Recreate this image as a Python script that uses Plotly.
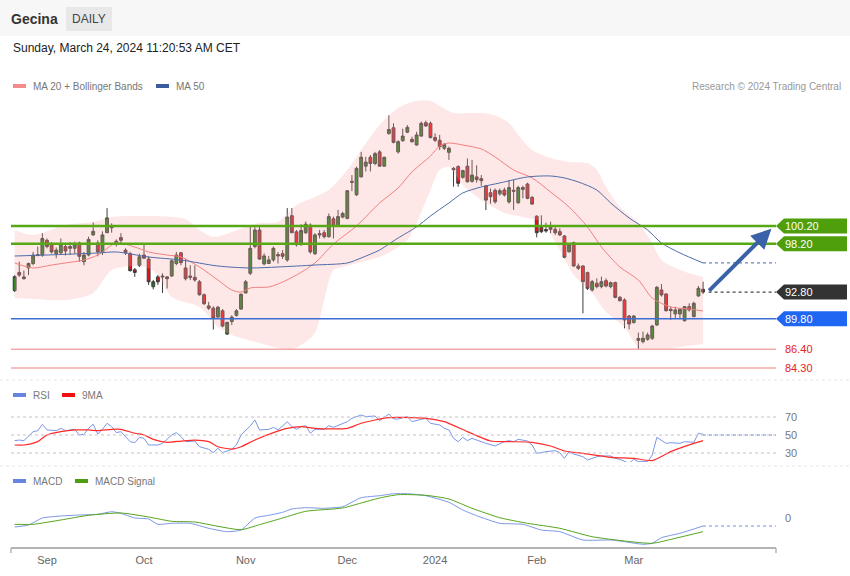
import plotly.graph_objects as go

# ---------------- data ----------------
# trading-day index (0 = Sep 1 2023) for each daily candle
candle_idx = list(range(-7, 143))
opens = [92.96, 95.0, 94.5, 95.5, 96.0, 97.0, 96.95,
         98.6, 98.1, 97.1, 97.2, 97.9, 97.9, 97.7, 98.3, 96.2, 96.95,
         99.2, 98.3, 97.3, 99.45, 100.15, 98.5, 98.9, 97.5, 97.1, 95.3,
         95.8, 96.95, 96.5, 93.4, 94.5, 94.6, 94.5, 94.6, 96.0, 97.2,
         95.5, 94.6, 94.45, 93.95, 92.5, 91.25, 91.0, 90.0, 90.7, 88.1,
         89.5, 90.2, 90.9, 92.7, 94.9, 97.9, 99.75, 95.95, 96.0, 96.4,
         97.0, 97.1, 96.4, 101.35, 99.55, 98.1, 99.45, 100.3, 97.1, 99.35,
         99.45, 99.0, 101.0, 100.2, 101.2, 101.05, 105.2, 103.7, 105.7, 106.9,
         107.9, 107.2, 108.5, 106.9, 110.57, 111.2, 108.5, 109.75, 110.7, 109.9,
         109.27, 110.27, 111.77, 111.7, 110.1, 109.8, 108.9, 108.45, 106.65, 106.85,
         105.65, 106.9, 105.2, 105.7, 105.5, 104.68, 103.93, 104.2, 103.8, 104.23,
         102.9, 104.2, 102.8, 104.3, 104.9, 103.4, 101.3, 100.05, 99.8, 100.05,
         99.83, 99.57, 99.08, 97.33, 98.33, 95.72, 95.72, 94.98, 93.04, 93.78,
         93.41, 94.08, 93.41, 93.86, 92.21, 91.92, 90.12, 89.38, 87.6, 87.25,
         87.51, 87.63, 89.12, 93.04, 92.59, 90.87, 90.35, 90.35, 89.6, 91.17,
         90.05, 92.36, 93.11]
highs = [94.7, 96.2, 95.2, 96.1, 97.3, 97.9, 99.4,
         98.8, 98.4, 97.8, 98.8, 98.3, 98.4, 98.45, 98.45, 97.3, 99.0,
         100.6, 98.6, 99.6, 102.2, 100.5, 98.7, 99.4, 97.7, 97.3, 95.5,
         97.1, 98.1, 96.8, 94.15, 94.7, 94.9, 94.6, 96.45, 97.3, 97.3,
         96.5, 95.8, 95.8, 94.15, 92.66, 91.7, 91.2, 91.25, 90.9, 89.5,
         90.2, 90.9, 92.66, 94.15, 100.2, 100.2, 100.2, 97.14, 96.85, 97.9,
         97.3, 97.5, 102.2, 102.2, 99.75, 100.4, 100.7, 100.5, 99.4, 99.75,
         99.75, 101.6, 101.25, 102.0, 101.8, 104.2, 105.9, 106.85, 108.5, 107.95,
         108.15, 108.5, 108.7, 107.95, 112.6, 111.7, 109.8, 111.1, 111.5, 110.2,
         110.75, 111.9, 112.0, 111.9, 110.57, 110.4, 109.5, 109.1, 106.8, 107.0,
         106.5, 107.77, 107.6, 107.0, 105.9, 104.8, 104.4, 104.4, 104.4, 104.5,
         105.35, 105.35, 104.7, 104.7, 105.05, 103.56, 101.4, 101.4, 100.57, 100.68,
         100.3, 99.94, 99.2, 98.26, 98.45, 96.0, 95.83, 95.09, 94.16, 94.34,
         94.53, 94.34, 93.97, 93.97, 92.36, 92.1, 90.24, 90.24, 88.26, 88.37,
         88.26, 89.12, 93.48, 93.7, 92.66, 91.17, 91.17, 90.98, 91.25, 91.54,
         91.73, 93.48, 93.97]
lows = [92.8, 94.5, 94.2, 94.7, 95.8, 96.8, 96.75,
        97.7, 97.1, 96.6, 96.95, 96.9, 96.95, 97.1, 96.2, 95.8, 96.8,
        99.1, 96.8, 96.95, 99.4, 99.45, 97.9, 98.2, 96.95, 95.1, 94.5,
        95.6, 96.5, 93.6, 93.1, 93.6, 92.7, 93.2, 94.5, 95.8, 95.8,
        94.1, 94.15, 93.95, 92.4, 91.35, 90.8, 88.6, 89.95, 88.85, 88.0,
        89.1, 90.05, 90.8, 92.66, 94.7, 97.7, 96.4, 95.8, 95.95, 96.2,
        96.0, 96.5, 96.2, 99.4, 97.9, 98.0, 99.3, 97.1, 96.95, 98.8,
        98.8, 98.9, 98.8, 100.1, 101.05, 100.95, 104.1, 103.55, 105.65, 106.3,
        106.3, 107.0, 106.85, 106.85, 110.4, 109.45, 108.3, 109.64, 110.6, 109.53,
        109.2, 110.2, 111.3, 110.0, 109.6, 108.7, 108.7, 107.6, 104.6, 104.6,
        105.5, 105.05, 105.05, 105.05, 104.7, 101.99, 102.7, 102.7, 103.6, 103.5,
        102.7, 102.0, 102.7, 103.3, 103.2, 102.55, 98.93, 99.4, 99.45, 99.4,
        99.2, 99.08, 96.58, 97.2, 95.65, 95.27, 90.42, 93.04, 92.85, 93.22,
        93.22, 93.33, 93.22, 92.1, 91.73, 88.74, 88.63, 89.3, 86.32, 87.06,
        87.36, 87.44, 89.0, 92.29, 90.61, 89.68, 89.87, 89.75, 89.49, 90.61,
        89.98, 92.29, 92.59]
closes = [94.53, 94.7, 94.3, 96.0, 96.95, 96.9, 98.8,
          97.9, 97.3, 97.5, 98.2, 97.4, 97.7, 98.1, 96.8, 96.95, 98.7,
          99.6, 97.3, 99.2, 101.1, 100.0, 98.2, 98.6, 97.2, 95.2, 95.0,
          96.75, 96.6, 93.95, 93.95, 93.95, 94.5, 94.3, 96.3, 96.95, 96.1,
          94.3, 94.45, 94.15, 92.5, 91.5, 91.0, 89.9, 91.1, 89.0, 89.4,
          90.0, 90.7, 92.55, 93.95, 97.7, 99.75, 96.5, 96.85, 96.4, 97.7,
          96.85, 96.8, 101.2, 99.45, 98.1, 99.7, 100.4, 97.3, 99.2, 99.2,
          99.0, 101.25, 100.2, 101.25, 101.6, 104.15, 105.1, 106.65, 107.9, 107.35,
          107.2, 108.3, 106.9, 107.9, 111.0, 109.57, 109.64, 110.27, 111.25, 109.64,
          110.4, 111.7, 111.4, 110.1, 109.8, 109.08, 109.35, 108.9, 106.5, 104.98,
          106.4, 105.16, 105.9, 105.4, 105.27, 103.1, 103.48, 102.92, 104.16, 103.67,
          104.5, 104.1, 104.5, 104.5, 103.3, 102.66, 99.45, 99.57, 99.65, 99.83,
          99.45, 99.2, 96.7, 98.07, 95.72, 95.46, 93.97, 93.22, 93.97, 93.41,
          93.97, 93.48, 93.86, 92.21, 91.84, 89.68, 89.23, 90.12, 87.4, 87.63,
          88.0, 89.0, 93.33, 92.48, 90.72, 90.72, 90.8, 90.87, 91.17, 90.8,
          91.54, 93.22, 92.8]

# Bollinger bands, MA20, MA50 (values read at sampled days)
bb_up_idx = [-7, -3, 4, 10, 14, 22, 27, 30, 33, 36, 40, 43, 46, 50, 54, 58, 61, 65, 68, 72,
             76, 79, 83, 85, 88, 92, 96, 100, 102, 105, 109, 113, 117, 119, 121, 124, 128,
             131, 133, 137, 142]
bb_up = [99.75, 99.19, 100.31, 100.65, 101.21, 101.32, 101.21, 100.98, 99.75, 98.97, 99.53,
         100.09, 100.54, 100.65, 102.55, 103.45, 104.23, 106.47, 108.71, 111.51, 113.41,
         114.09, 114.2, 113.64, 112.86, 112.86, 112.74, 111.73, 110.39, 108.71, 107.81,
         107.37, 107.25, 106.47, 104.57, 102.33, 100.54, 98.3, 96.39, 95.27, 94.49]
bb_lo_idx = [-7, -3, 4, 10, 14, 19, 22, 24, 27, 33, 37, 40, 46, 50, 53, 55, 58, 60, 62, 64,
             68, 72, 75, 78, 80, 83, 85, 87, 90, 94, 99, 103, 107, 111, 114, 118, 121, 125,
             128, 132, 137, 142]
bb_lo = [92.14, 92.03, 91.91, 92.7, 95.27, 95.72, 95.5, 94.71, 92.25, 91.13, 88.89, 87.99,
         87.1, 86.54, 86.43, 86.87, 88.22, 91.91, 95.27, 95.61, 96.17, 96.73, 97.51, 98.63,
         100.54, 104.23, 106.47, 106.81, 104.79, 103.11, 101.66, 101.21, 100.65, 97.51,
         94.71, 92.7, 90.57, 88.89, 86.65, 86.31, 86.65, 86.99]
ma20_idx = [-7, -3, 1, 4, 8, 11, 15, 19, 22, 26, 29, 33, 37, 40, 42, 44, 48, 50, 54, 58, 62,
            67, 72, 76, 79, 83, 85, 87, 90, 94, 97, 101, 105, 109, 113, 117, 120, 124, 128,
            131, 135, 139, 142]
ma20 = [96.06, 95.5, 95.83, 96.06, 96.39, 96.95, 98.3, 97.85, 97.29, 96.95, 96.73, 95.61,
        94.15, 93.03, 92.8, 93.26, 93.37, 93.7, 94.71, 96.06, 98.18, 100.2, 102.78, 104.46,
        106.25, 108.04, 109.16, 109.49, 109.27, 108.82, 107.93, 106.47, 105.58, 104.01,
        102.33, 100.09, 97.85, 95.61, 94.15, 92.14, 91.13, 90.91, 90.68]
ma50_idx = [-7, 0, 11, 15, 22, 29, 37, 44, 50, 58, 65, 68, 72, 74, 76, 80, 83, 87, 90, 94,
            98, 104, 109, 112, 115, 119, 122, 126, 130, 133, 137, 142]
ma50 = [96.84, 96.95, 97.18, 97.29, 96.73, 96.39, 95.72, 95.5, 95.61, 95.83, 96.06, 96.62,
        97.51, 98.18, 98.86, 100.1, 101.32, 102.78, 103.9, 104.57, 105.02, 105.69, 105.8,
        105.58, 105.13, 104.23, 102.78, 101.1, 99.75, 98.3, 97.18, 96.06]

# RSI and its 9-day MA
rsi_idx = [-7, -6, -5, -3, -2, -1, 0, 2, 3, 4, 6, 7, 8, 9, 10, 11, 12, 13, 14, 15, 16, 17,
           18, 19, 20, 21, 22, 24, 25, 27, 28, 29, 30, 32, 33, 35, 36, 37, 38, 40, 41, 42,
           44, 45, 46, 48, 49, 50, 52, 53, 54, 55, 56, 57, 58, 60, 61, 62, 63, 65, 66, 68,
           69, 71, 72, 74, 75, 76, 78, 79, 81, 82, 83, 85, 86, 87, 88, 89, 90, 91, 92, 93,
           95, 97, 99, 100, 101, 102, 104, 105, 106, 108, 110, 111, 112, 113, 114, 116,
           117, 119, 120, 122, 123, 124, 126, 127, 128, 130, 131, 132, 133, 134, 135, 137,
           138, 140, 141, 142]
rsi = [43.7, 44.4, 43.7, 53.7, 54.8, 61.9, 55.6, 54.8, 57.4, 54.8, 56.3, 50.0, 50.7, 57.4,
       61.9, 51.1, 56.3, 63.0, 59.3, 52.6, 53.7, 48.1, 42.6, 41.5, 47.4, 46.3, 38.9, 38.9,
       40.7, 50.0, 52.6, 48.1, 42.6, 43.3, 37.0, 34.1, 30.4, 35.2, 30.4, 34.1, 38.9, 50.0,
       60.0, 66.7, 55.6, 56.3, 58.5, 55.6, 64.8, 59.3, 56.3, 59.3, 60.4, 51.9, 56.3, 56.3,
       60.4, 58.5, 60.4, 64.8, 68.5, 72.2, 70.4, 71.1, 65.9, 73.3, 67.8, 67.8, 70.4, 64.8,
       67.4, 68.5, 63.0, 61.1, 57.4, 55.6, 46.3, 42.6, 47.4, 43.7, 46.3, 44.4, 40.7, 37.8,
       42.6, 43.7, 42.6, 45.2, 43.3, 38.9, 29.6, 31.5, 32.6, 30.4, 24.1, 31.5, 28.9, 25.9,
       22.2, 25.9, 26.7, 26.7, 24.1, 23.0, 18.5, 23.0, 20.4, 20.4, 27.8, 47.4, 44.4, 40.7,
       41.5, 40.7, 42.6, 41.9, 51.9, 50.7]
rsi_ma_idx = [-7, -5, -2, 0, 3, 6, 9, 11, 14, 16, 19, 21, 23, 26, 29, 32, 35, 37, 40, 42,
              45, 49, 52, 55, 58, 62, 65, 68, 71, 74, 76, 79, 82, 86, 91, 96, 100, 105, 109,
              112, 116, 122, 127, 131, 135, 140, 142]
rsi_ma = [38.9, 38.9, 42.6, 50.0, 53.7, 55.6, 55.6, 54.8, 56.3, 56.3, 51.9, 50.0, 45.2, 41.9,
          43.3, 44.4, 42.6, 37.0, 34.4, 37.0, 44.4, 52.6, 57.4, 59.3, 57.4, 56.7, 57.4, 63.0,
          66.7, 69.3, 69.6, 69.3, 68.5, 64.8, 53.7, 43.3, 42.6, 41.9, 37.8, 32.2, 29.6, 25.2,
          24.1, 21.5, 31.5, 40.7, 43.7]

# MACD and signal
macd_idx = [-7, -4, -1, 3, 7, 11, 14, 16, 19, 22, 24, 27, 31, 35, 39, 42, 45, 48, 51, 53,
            56, 60, 64, 68, 72, 75, 78, 82, 87, 90, 93, 98, 103, 107, 111, 116, 122, 125,
            129, 131, 133, 137, 142]
macd = [-0.9, -0.7, 0.0, 0.2, 0.3, 0.37, 0.63, 0.47, 0.0, -0.1, -0.63, -0.53, -0.53, -1.03,
        -1.37, -1.2, 0.0, 0.27, 0.57, 0.9, 1.03, 0.97, 1.13, 2.03, 2.23, 2.43, 2.43, 2.23,
        1.57, 0.8, 0.23, -0.53, -0.63, -1.2, -1.37, -2.2, -2.2, -2.37, -2.63, -2.53, -1.97,
        -1.53, -0.8]
sig_idx = [-7, -3, 3, 9, 16, 22, 27, 32, 37, 42, 46, 51, 56, 64, 68, 72, 76, 82, 87, 92,
           98, 104, 111, 118, 125, 131, 136, 142]
sig = [-0.63, -0.63, -0.2, 0.27, 0.5, 0.1, -0.33, -0.4, -0.83, -1.17, -0.67, 0.0, 0.67, 1.0,
       1.5, 2.0, 2.33, 2.27, 1.9, 0.97, 0.03, -0.53, -1.03, -1.87, -2.3, -2.53, -2.03, -1.37]

# key levels
res_levels = [100.20, 98.20]
pivot_level = 89.80
sup_levels = [86.40, 84.30]
last_price = closes[-1]

tick_idx = [0, 21, 43, 65, 84, 106, 127]
tick_text = ["Sep", "Oct", "Nov", "Dec", "2024", "Feb", "Mar"]

# ---------------- layout geometry ----------------
W, H = 850, 576
ML, MR, MT, MB = 11, 74, 36, 28
PW, PH = W - ML - MR, H - MT - MB
X_MIN, X_MAX = -7.79, 157.79


def fx(px):  # pixel x -> paper x
    return (px - ML) / PW


def fy(py):  # pixel y -> paper y
    return (H - MB - py) / PH


def price_at(py):
    return 100.2 - (py - 226) / 8.93


def price_px(p):
    return 226 + (100.2 - p) * 8.93


def rsi_at(py):
    return 50 - (py - 435) / 0.9


def macd_at(py):
    return (518 - py) / 10.0


FONT = "Liberation Sans, Arial, sans-serif"

fig = go.Figure()

# Bollinger band fill
fig.add_trace(go.Scatter(x=bb_up_idx, y=bb_up, mode="lines", line=dict(width=0, shape="spline", smoothing=0.8),
                         hoverinfo="skip", showlegend=False))
fig.add_trace(go.Scatter(x=bb_lo_idx, y=bb_lo, mode="lines", line=dict(width=0, shape="spline", smoothing=0.8),
                         fill="tonexty", fillcolor="rgba(250,165,165,0.27)", hoverinfo="skip", showlegend=False))
# MA lines
fig.add_trace(go.Scatter(x=ma20_idx, y=ma20, mode="lines",
                         line=dict(color="#f28080", width=1, shape="spline", smoothing=0.8), showlegend=False))
fig.add_trace(go.Scatter(x=ma50_idx, y=ma50, mode="lines",
                         line=dict(color="#4d6ca8", width=1, shape="spline", smoothing=0.8), showlegend=False))

# candles
fig.add_trace(go.Candlestick(
    x=candle_idx, open=opens, high=highs, low=lows, close=closes,
    increasing=dict(line=dict(color="#3c3c3c", width=1), fillcolor="#1f801a"),
    decreasing=dict(line=dict(color="#3c3c3c", width=1), fillcolor="#ea1219"),
    whiskerwidth=0, showlegend=False, xaxis="x", yaxis="y"))

# RSI panel
fig.add_trace(go.Scatter(x=rsi_idx, y=rsi, mode="lines", line=dict(color="#7b96e6", width=1),
                         xaxis="x", yaxis="y2", showlegend=False))
fig.add_trace(go.Scatter(x=rsi_ma_idx, y=rsi_ma, mode="lines",
                         line=dict(color="#ff2a2a", width=1.2, shape="spline", smoothing=0.6),
                         xaxis="x", yaxis="y2", showlegend=False))
# MACD panel
fig.add_trace(go.Scatter(x=macd_idx, y=macd, mode="lines",
                         line=dict(color="#7b96e6", width=1, shape="spline", smoothing=0.5),
                         xaxis="x", yaxis="y3", showlegend=False))
fig.add_trace(go.Scatter(x=sig_idx, y=sig, mode="lines",
                         line=dict(color="#55a51c", width=1, shape="spline", smoothing=0.6),
                         xaxis="x", yaxis="y3", showlegend=False))

shapes = []
annotations = []

# header strip
shapes.append(dict(type="rect", xref="paper", yref="paper", x0=fx(0), x1=fx(W), y0=fy(36), y1=fy(0),
                   fillcolor="#f7f7f7", line=dict(width=0), layer="below"))
shapes.append(dict(type="rect", xref="paper", yref="paper", x0=fx(66), x1=fx(112), y0=fy(31), y1=fy(7),
                   fillcolor="#e8e8e8", line=dict(width=0), layer="below"))
# panel separators
for sy in (380, 466):
    shapes.append(dict(type="line", xref="paper", yref="paper", x0=fx(0), x1=fx(W), y0=fy(sy), y1=fy(sy),
                       line=dict(color="#e6e6e6", width=1, dash="dot")))

# level lines
for lv in res_levels:
    shapes.append(dict(type="line", xref="paper", yref="y", x0=0, x1=1, y0=lv, y1=lv,
                       line=dict(color="#56a816", width=2.5)))
shapes.append(dict(type="line", xref="paper", yref="y", x0=0, x1=1, y0=pivot_level, y1=pivot_level,
                   line=dict(color="#3d6fd6", width=1.5)))
for lv in sup_levels:
    shapes.append(dict(type="line", xref="paper", yref="y", x0=0, x1=1, y0=lv, y1=lv,
                       line=dict(color="#f7a9a9", width=1.5)))

# dotted extensions of last values
last_i = candle_idx[-1]
shapes.append(dict(type="line", xref="x", yref="y", x0=last_i + 1.2, x1=X_MAX, y0=last_price, y1=last_price,
                   line=dict(color="#444444", width=1.2, dash="dot")))
shapes.append(dict(type="line", xref="x", yref="y", x0=ma50_idx[-1], x1=X_MAX, y0=ma50[-1], y1=ma50[-1],
                   line=dict(color="#6b83b8", width=1.2, dash="dot")))
# RSI grid
for g in (70, 50, 30):
    shapes.append(dict(type="line", xref="paper", yref="y2", x0=0, x1=1, y0=g, y1=g,
                       line=dict(color="#c4c4c4", width=1, dash="dot")))
shapes.append(dict(type="line", xref="x", yref="y2", x0=rsi_idx[-1], x1=X_MAX, y0=50, y1=50,
                   line=dict(color="#6f8fe6", width=1.2, dash="dot")))
shapes.append(dict(type="line", xref="x", yref="y3", x0=macd_idx[-1], x1=X_MAX, y0=macd[-1], y1=macd[-1],
                   line=dict(color="#6f8fe6", width=1.2, dash="dot")))

# x axis line with end ticks
shapes.append(dict(type="line", xref="paper", yref="paper", x0=0, x1=1, y0=fy(548), y1=fy(548),
                   line=dict(color="#b4b4b4", width=2)))
for ex in (0, 1):
    shapes.append(dict(type="line", xref="paper", yref="paper", x0=ex, x1=ex, y0=fy(548), y1=fy(553),
                       line=dict(color="#b4b4b4", width=1.5)))

TXT_DX = -2  # annotation inner padding compensation


# price tags on the right
def tag(level, color):
    cy = price_px(level)
    path = "M {} {} L {} {} L {} {} L {} {} L {} {} Z".format(
        fx(776), fy(cy), fx(784), fy(cy - 7.5), fx(847), fy(cy - 7.5), fx(847), fy(cy + 7.5), fx(784), fy(cy + 7.5))
    shapes.append(dict(type="path", xref="paper", yref="paper", path=path, fillcolor=color, line=dict(width=0)))
    annotations.append(dict(xref="paper", yref="paper", x=fx(785 + TXT_DX), y=fy(cy), text="{:.2f}".format(level),
                            showarrow=False, xanchor="left", yanchor="middle",
                            font=dict(color="white", size=11, family=FONT)))


tag(res_levels[0], "#4f9e0c")
tag(res_levels[1], "#4f9e0c")
tag(last_price, "#333333")
tag(pivot_level, "#1f66f2")
for lv in sup_levels:
    annotations.append(dict(xref="paper", yref="paper", x=fx(785 + TXT_DX), y=fy(price_px(lv)),
                            text="{:.2f}".format(lv), showarrow=False, xanchor="left", yanchor="middle",
                            font=dict(color="#e8201c", size=11, family=FONT)))

# RSI / MACD axis labels
for g in (70, 50, 30):
    annotations.append(dict(xref="paper", yref="y2", x=fx(785 + TXT_DX), y=g, text=str(g), showarrow=False,
                            xanchor="left", yanchor="middle", font=dict(color="#777", size=11, family=FONT)))
annotations.append(dict(xref="paper", yref="y3", x=fx(785 + TXT_DX), y=0, text="0", showarrow=False,
                        xanchor="left", yanchor="middle", font=dict(color="#777", size=11, family=FONT)))

# arrow to target
annotations.append(dict(x=last_i + 14.8, y=res_levels[0] - 0.3, ax=last_i + 1.0, ay=last_price,
                        xref="x", yref="y", axref="x", ayref="y", text="", showarrow=True,
                        arrowhead=2, arrowsize=1.0, arrowwidth=4, arrowcolor="#3a62a8"))

# header texts
annotations.append(dict(xref="paper", yref="paper", x=fx(11 + TXT_DX), y=fy(19), text="<b>Gecina</b>",
                        showarrow=False, xanchor="left", yanchor="middle",
                        font=dict(color="#333", size=14, family=FONT)))
annotations.append(dict(xref="paper", yref="paper", x=fx(89), y=fy(19), text="DAILY", showarrow=False,
                        xanchor="center", yanchor="middle", font=dict(color="#444", size=12, family=FONT)))
annotations.append(dict(xref="paper", yref="paper", x=fx(13 + TXT_DX), y=fy(48),
                        text="Sunday, March 24, 2024 11:20:53 AM CET", showarrow=False,
                        xanchor="left", yanchor="middle", font=dict(color="#222", size=12, family=FONT)))
annotations.append(dict(xref="paper", yref="paper", x=fx(843), y=fy(86),
                        text="Research © 2024 Trading Central", showarrow=False,
                        xanchor="right", yanchor="middle", font=dict(color="#999", size=10, family=FONT)))


# legends
def legend_item(x_sw, y, color, label):
    shapes.append(dict(type="rect", xref="paper", yref="paper", x0=fx(x_sw), x1=fx(x_sw + 13),
                       y0=fy(y + 2), y1=fy(y - 2), fillcolor=color, line=dict(width=0)))
    annotations.append(dict(xref="paper", yref="paper", x=fx(x_sw + 20 + TXT_DX), y=fy(y), text=label,
                            showarrow=False, xanchor="left", yanchor="middle",
                            font=dict(color="#777", size=10, family=FONT)))


legend_item(13, 86, "#f58a8a", "MA 20 + Bollinger Bands")
legend_item(156, 86, "#3b5c9c", "MA 50")
legend_item(13, 395, "#6585e0", "RSI")
legend_item(62, 395, "#f01010", "9MA")
legend_item(13, 481, "#6585e0", "MACD")
legend_item(75, 481, "#4c9e10", "MACD Signal")

fig.update_layout(
    width=W, height=H,
    margin=dict(l=ML, r=MR, t=MT, b=MB, pad=0),
    paper_bgcolor="white", plot_bgcolor="rgba(0,0,0,0)",
    showlegend=False, boxgap=0.12,
    font=dict(family=FONT),
    xaxis=dict(range=[X_MIN, X_MAX], anchor="y3", tickmode="array", tickvals=tick_idx, ticktext=tick_text,
               showgrid=False, zeroline=False, showline=False, ticks="", ticklen=0, ticklabelstandoff=4,
               tickfont=dict(size=11, color="#666", family=FONT), rangeslider=dict(visible=False),
               fixedrange=True),
    yaxis=dict(domain=[fy(378), fy(95)], range=[price_at(378), price_at(95)], visible=False,
               showgrid=False, fixedrange=True),
    yaxis2=dict(domain=[fy(462), fy(400)], range=[rsi_at(462), rsi_at(400)], visible=False,
                showgrid=False, fixedrange=True),
    yaxis3=dict(domain=[0, fy(475)], range=[macd_at(548), macd_at(475)], visible=False,
                showgrid=False, fixedrange=True),
    shapes=shapes, annotations=annotations,
)

fig.write_html("out.html", config={"displayModeBar": False},
               post_script="document.body.style.margin='0px';document.body.style.overflow='hidden';")
